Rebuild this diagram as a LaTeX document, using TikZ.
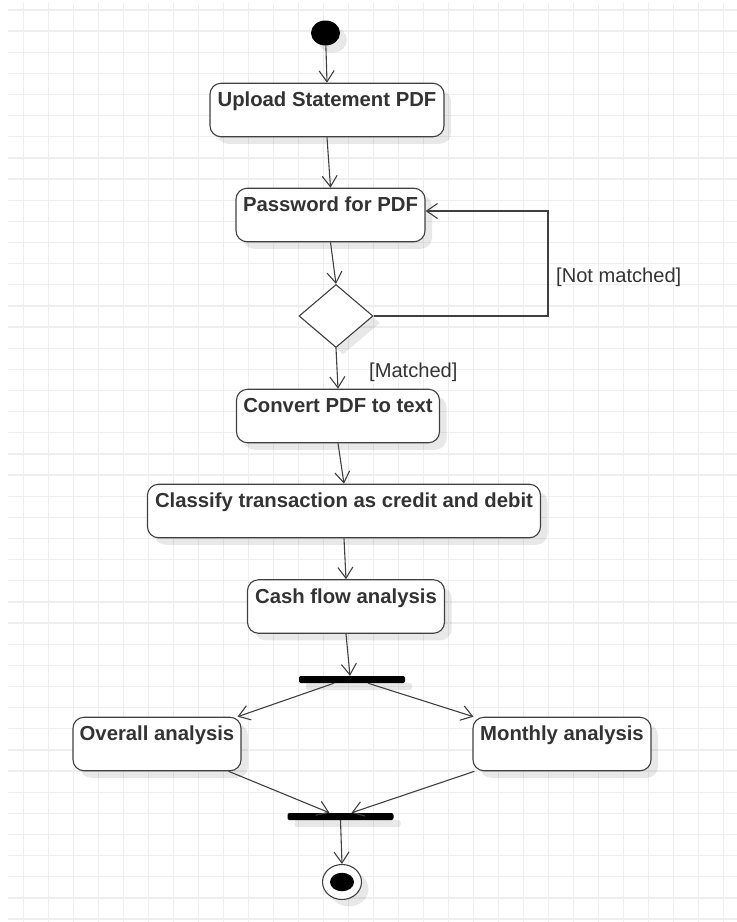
\documentclass[tikz,border=0pt]{standalone}
\usepackage{fontspec}
\setmainfont{Liberation Sans}
\usetikzlibrary{positioning,arrows.meta,shapes.geometric,shadows}
\definecolor{lineg}{HTML}{404040}
\definecolor{textg}{HTML}{333333}
\definecolor{gridg}{HTML}{EEEEEE}
\tikzstyle{umlshadow} = [drop shadow={shadow xshift=7pt, shadow yshift=-7pt, opacity=0.09, fill=black}]
\tikzstyle{action}    = [rectangle, rounded corners=11pt, draw=lineg, line width=1.1pt, fill=white,
                         text=textg, font=\fontsize{20.3}{24}\selectfont\bfseries,
                         inner xsep=0pt, inner ysep=0pt, text height=23.5pt, text depth=30pt, umlshadow]
\tikzstyle{syncbar}   = [rectangle, fill=black, minimum width=106pt, minimum height=7pt,
                         inner sep=0pt, rounded corners=2pt, umlshadow]
\tikzstyle{guard}     = [text=textg, font=\fontsize{20.1}{24}\selectfont, inner sep=0pt, anchor=west]
\tikzstyle{arrow}     = [line width=1.1pt, draw=lineg, -{Straight Barb[length=11pt,width=15pt]}]

\begin{document}
\begin{tikzpicture}[x=1pt, y=-1pt,
    initial/.style={ellipse, fill=black, minimum width=29pt, minimum height=25pt, inner sep=0pt, umlshadow},
    final/.style={ellipse, draw=lineg, line width=1.1pt, fill=white, minimum width=39pt, minimum height=35pt, inner sep=0pt, umlshadow},
    decision/.style={diamond, draw=lineg, line width=1.1pt, fill=white, minimum width=74pt, minimum height=63pt, inner sep=0pt, umlshadow}]
	\useasboundingbox (0,0) rectangle (737,922);
	% background grid
	\foreach \i in {0,...,28}
		\draw[gridg, line width=1.3pt] ({23.5+25*\i},3) -- ({23.5+25*\i},922);
	\foreach \j in {0,...,43}
		\draw[gridg, line width=1.3pt] (8,{10+21.14*\j}) -- (737,{10+21.14*\j});
	% activities
	\node[initial] (start) at (325.5,33) {};
	\node[action, minimum width=234pt] (upload) at (327,110) {Upload Statement PDF};
	\node[action, minimum width=189pt] (password) at (330.5,215) {Password for PDF};
	\node[decision] (check) at (336,316) {};
	\node[action, minimum width=203pt] (convert) at (338,416) {Convert PDF to text};
	\node[action, minimum width=393pt] (classify) at (344,511) {Classify transaction as credit and debit};
	\node[action, minimum width=197pt] (cashflow) at (346,606.5) {Cash flow analysis};
	\node[syncbar] (fork) at (352,679.5) {};
	\node[action, minimum width=168pt] (overall) at (157,744) {Overall analysis};
	\node[action, minimum width=178pt] (monthly) at (562,744) {Monthly analysis};
	\node[syncbar] (join) at (340.5,816.5) {};
	\node[final] (stop) at (342,882) {};
	\node[ellipse, fill=black, minimum width=24pt, minimum height=18.5pt, inner sep=0pt] (stopdot) at (stop) {};
	\coordinate (loop) at (548,211);
	% guards
	\node[guard] (notmatched) at (556,277) {[Not matched]};
	\node[guard] (matched) at (369,372) {[Matched]};
	% flows
	\draw[arrow] (start) -- (upload.north);
	\draw[arrow] (upload.south) -- (password.north);
	\draw[arrow] (password.south) -- (check.north);
	\draw[arrow] (check.east) -| (loop) -- (loop -| password.east);
	\draw[arrow] (check.south) -- (convert.north);
	\draw[arrow] (convert.south) -- (classify.north);
	\draw[arrow] (classify.south) -- (cashflow.north);
	\draw[arrow] (cashflow.south) -- ([xshift=-2pt]fork.north);
	\draw[arrow] ([xshift=-18pt]fork.south) -- ([xshift=-4pt]overall.north east);
	\draw[arrow] ([xshift=16pt]fork.south) -- ([xshift=1pt]monthly.north west);
	\draw[arrow] ([xshift=-13pt]overall.south east) -- ([xshift=-11pt]join.north);
	\draw[arrow] ([xshift=2pt]monthly.south west) -- ([xshift=11pt]join.north);
	\draw[arrow] (join.south) -- (stop.north);
\end{tikzpicture}
\end{document}
